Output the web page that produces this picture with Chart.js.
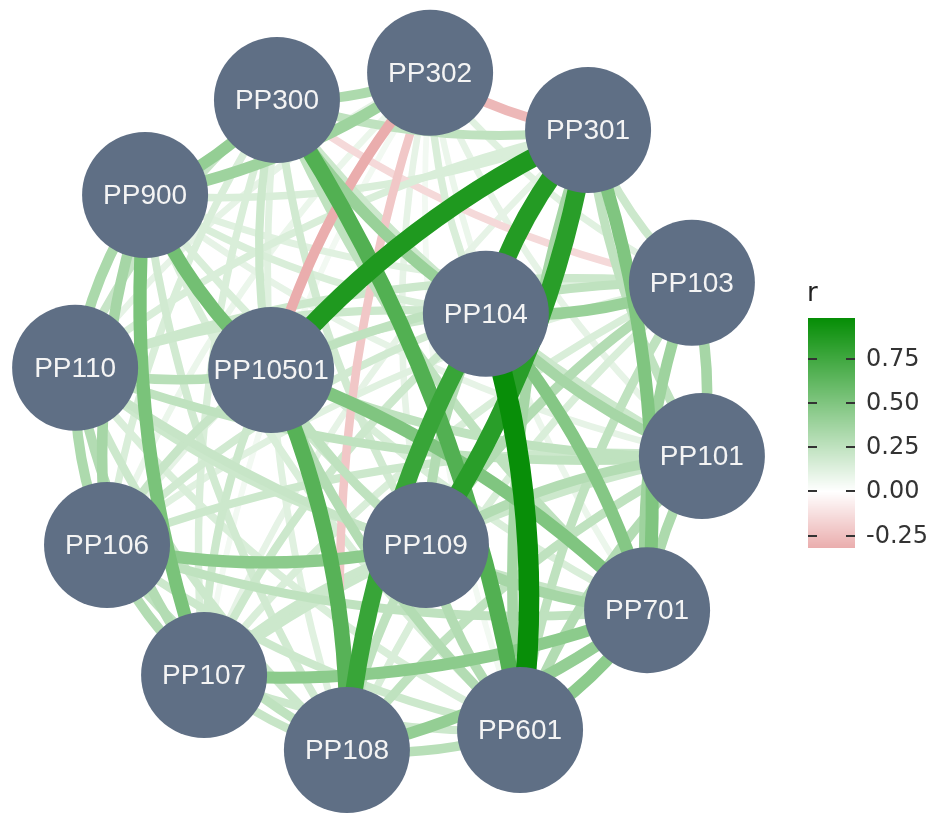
<!DOCTYPE html>
<html>
<head>
<meta charset="utf-8">
<script src="https://cdn.jsdelivr.net/npm/chart.js@4.4.1/dist/chart.umd.min.js"></script>
<style>
  html, body { margin: 0; padding: 0; background: #ffffff; }
  #wrap { width: 935px; height: 815px; }
</style>
</head>
<body>
<div id="wrap"><canvas id="corrNet" width="935" height="815"></canvas></div>
<script>
// Node names and their layout coordinates
const nodeNames = ['PP302', 'PP300', 'PP301', 'PP900', 'PP103', 'PP104', 'PP110', 'PP10501',
                   'PP101', 'PP106', 'PP109', 'PP701', 'PP107', 'PP601', 'PP108'];
const nodeX = [0.134, -0.341, 0.624, -0.750, 0.946, 0.307, -0.967, -0.359,
               0.977, -0.868, 0.121, 0.807, -0.567, 0.413, -0.124];
const nodeY = [1.022, 0.937, 0.843, 0.640, 0.365, 0.268, 0.099, 0.092,
               -0.177, -0.455, -0.455, -0.659, -0.862, -1.034, -1.097];

// Correlations between pairs: [from, to, r]
const strongEdges = [
  ['PP601', 'PP104', 0.97], ['PP301', 'PP10501', 0.88], ['PP301', 'PP104', 0.86],
  ['PP109', 'PP301', 0.84], ['PP104', 'PP108', 0.78], ['PP601', 'PP300', 0.68],
  ['PP108', 'PP10501', 0.66], ['PP900', 'PP10501', 0.55], ['PP900', 'PP107', 0.52],
  ['PP701', 'PP10501', 0.50], ['PP701', 'PP104', 0.48], ['PP701', 'PP301', 0.50],
  ['PP106', 'PP109', 0.45], ['PP107', 'PP701', 0.45], ['PP108', 'PP701', 0.42],
  ['PP601', 'PP701', 0.45], ['PP300', 'PP104', 0.40], ['PP900', 'PP300', 0.42],
  ['PP900', 'PP302', 0.38], ['PP300', 'PP302', 0.32], ['PP104', 'PP103', 0.40],
  ['PP101', 'PP103', 0.35], ['PP103', 'PP701', 0.38], ['PP301', 'PP601', 0.35],
  ['PP900', 'PP110', 0.33], ['PP900', 'PP106', 0.35], ['PP110', 'PP106', 0.32],
  ['PP106', 'PP107', 0.30], ['PP110', 'PP10501', 0.28], ['PP101', 'PP701', 0.32],
  ['PP108', 'PP601', 0.28], ['PP104', 'PP101', 0.35]
];
const weakEdges = [
  ['PP10501', 'PP601', 0.30], ['PP10501', 'PP109', 0.25], ['PP10501', 'PP107', 0.20],
  ['PP10501', 'PP106', 0.22], ['PP900', 'PP109', 0.20], ['PP900', 'PP108', 0.18],
  ['PP900', 'PP104', 0.15], ['PP900', 'PP301', 0.15], ['PP900', 'PP103', 0.12],
  ['PP900', 'PP101', 0.10], ['PP900', 'PP701', 0.15], ['PP900', 'PP601', 0.15],
  ['PP300', 'PP110', 0.22], ['PP300', 'PP106', 0.15], ['PP300', 'PP10501', 0.20],
  ['PP300', 'PP109', 0.18], ['PP300', 'PP107', 0.15], ['PP300', 'PP108', 0.12],
  ['PP300', 'PP103', -0.15], ['PP300', 'PP101', 0.20], ['PP300', 'PP701', 0.25],
  ['PP300', 'PP301', 0.25], ['PP302', 'PP301', -0.28], ['PP302', 'PP10501', -0.32],
  ['PP302', 'PP108', -0.22], ['PP302', 'PP104', 0.15], ['PP302', 'PP103', 0.12],
  ['PP302', 'PP101', 0.10], ['PP302', 'PP701', 0.08], ['PP302', 'PP601', 0.05],
  ['PP302', 'PP109', 0.10], ['PP302', 'PP110', 0.10], ['PP302', 'PP106', 0.08],
  ['PP302', 'PP107', 0.05], ['PP301', 'PP103', 0.20], ['PP301', 'PP101', 0.25],
  ['PP301', 'PP110', 0.15], ['PP301', 'PP106', 0.10], ['PP301', 'PP107', 0.10],
  ['PP301', 'PP108', 0.08], ['PP103', 'PP110', 0.20], ['PP103', 'PP10501', 0.25],
  ['PP103', 'PP109', 0.30], ['PP103', 'PP106', 0.12], ['PP103', 'PP107', 0.15],
  ['PP103', 'PP601', 0.25], ['PP103', 'PP108', 0.15], ['PP104', 'PP110', 0.20],
  ['PP104', 'PP10501', 0.20], ['PP104', 'PP109', 0.30], ['PP104', 'PP106', 0.18],
  ['PP104', 'PP107', 0.20], ['PP110', 'PP101', 0.25], ['PP110', 'PP109', 0.20],
  ['PP110', 'PP107', 0.30], ['PP110', 'PP108', 0.20], ['PP110', 'PP601', 0.15],
  ['PP110', 'PP701', 0.22], ['PP10501', 'PP101', 0.25], ['PP101', 'PP106', 0.20],
  ['PP101', 'PP109', 0.30], ['PP101', 'PP107', 0.20], ['PP101', 'PP601', 0.30],
  ['PP101', 'PP108', 0.25], ['PP106', 'PP108', 0.25], ['PP106', 'PP601', 0.20],
  ['PP106', 'PP701', 0.25], ['PP109', 'PP701', 0.35], ['PP109', 'PP107', 0.20],
  ['PP109', 'PP601', 0.30], ['PP109', 'PP108', 0.25], ['PP107', 'PP108', 0.22],
  ['PP107', 'PP601', 0.20]
];

// Colour bar breaks and range
const legendTicks = [0.75, 0.50, 0.25, 0.00, -0.25];
const legendRange = [-0.32, 0.98];

// white -> green for positive r, white -> red for negative r
function rColour(r) {
  const end = r >= 0 ? [0, 139, 0] : [190, 0, 0];
  const t = Math.min(1, Math.abs(r));
  const c = end.map(v => Math.round(255 + (v - 255) * t));
  return `rgb(${c[0]},${c[1]},${c[2]})`;
}

// Draws the curved edges under the nodes, through the chart scales
// weaker correlations first so the strong ones sit on top
const edgePlugin = {
  id: 'edgePlugin',
  beforeDatasetsDraw(chart) {
    const { ctx, scales: { x, y } } = chart;
    const bend = 0.11;
    const allEdges = strongEdges.concat(weakEdges)
      .slice()
      .sort((p, q) => Math.abs(p[2]) - Math.abs(q[2]));
    ctx.save();
    ctx.lineCap = 'butt';
    allEdges.forEach(([a, b, r]) => {
      const i = nodeNames.indexOf(a);
      const j = nodeNames.indexOf(b);
      const x1 = x.getPixelForValue(nodeX[i]), y1 = y.getPixelForValue(nodeY[i]);
      const x2 = x.getPixelForValue(nodeX[j]), y2 = y.getPixelForValue(nodeY[j]);
      const dx = x2 - x1, dy = y2 - y1;
      const cx = (x1 + x2) / 2 - dy * bend;
      const cy = (y1 + y2) / 2 + dx * bend;
      ctx.strokeStyle = rColour(r);
      ctx.lineWidth = 5 + 16 * Math.abs(r);
      ctx.beginPath();
      ctx.moveTo(x1, y1);
      ctx.quadraticCurveTo(cx, cy, x2, y2);
      ctx.stroke();
    });
    ctx.restore();
  }
};

// Node labels on top of the circles
const labelPlugin = {
  id: 'labelPlugin',
  afterDatasetsDraw(chart) {
    const { ctx, scales: { x, y } } = chart;
    ctx.save();
    ctx.fillStyle = '#f4f4f4';
    ctx.font = '28px "Liberation Sans", Arial, sans-serif';
    ctx.textAlign = 'center';
    ctx.textBaseline = 'middle';
    nodeNames.forEach((name, i) => {
      ctx.fillText(name, x.getPixelForValue(nodeX[i]), y.getPixelForValue(nodeY[i]) + 1);
    });
    ctx.restore();
  }
};

// Colour bar legend for r
const colourBarPlugin = {
  id: 'colourBarPlugin',
  afterDraw(chart) {
    const ctx = chart.ctx;
    const left = 808, right = 855, top = 318, bottom = 548;
    const toY = v => top + (legendRange[1] - v) / (legendRange[1] - legendRange[0]) * (bottom - top);
    ctx.save();
    for (let py = top; py < bottom; py++) {
      const v = legendRange[1] - (py - top + 0.5) / (bottom - top) * (legendRange[1] - legendRange[0]);
      ctx.fillStyle = rColour(v);
      ctx.fillRect(left, py, right - left, 1);
    }
    ctx.strokeStyle = '#333333';
    ctx.lineWidth = 2;
    ctx.fillStyle = '#333333';
    ctx.font = '24px "DejaVu Sans", sans-serif';
    ctx.textAlign = 'left';
    ctx.textBaseline = 'middle';
    legendTicks.forEach(v => {
      const ty = Math.round(toY(v));
      ctx.beginPath();
      ctx.moveTo(left, ty); ctx.lineTo(left + 9, ty);
      ctx.moveTo(right - 9, ty); ctx.lineTo(right, ty);
      ctx.stroke();
      ctx.fillText(v.toFixed(2), 866, ty + 1);
    });
    ctx.font = '26px "DejaVu Sans", sans-serif';
    ctx.textBaseline = 'alphabetic';
    ctx.fillStyle = '#222222';
    ctx.fillText('r', 807, 301);
    ctx.restore();
  }
};

const ctx = document.getElementById('corrNet').getContext('2d');
const chart = new Chart(ctx, {
  type: 'scatter',
  data: {
    datasets: [{
      label: 'nodes',
      data: nodeNames.map((n, i) => ({ x: nodeX[i], y: nodeY[i] })),
      backgroundColor: '#5f6f85',
      borderWidth: 0,
      pointRadius: 63,
      pointHoverRadius: 63,
      clip: false
    }]
  },
  options: {
    responsive: false,
    animation: false,
    layout: { padding: 0, autoPadding: false },
    scales: {
      x: { type: 'linear', min: -1.2, max: 1.7, display: false },
      y: { type: 'linear', min: -1.3, max: 1.25, display: false }
    },
    plugins: {
      legend: { display: false },
      tooltip: { enabled: false }
    }
  },
  plugins: [edgePlugin, labelPlugin, colourBarPlugin]
});
</script>
</body>
</html>
